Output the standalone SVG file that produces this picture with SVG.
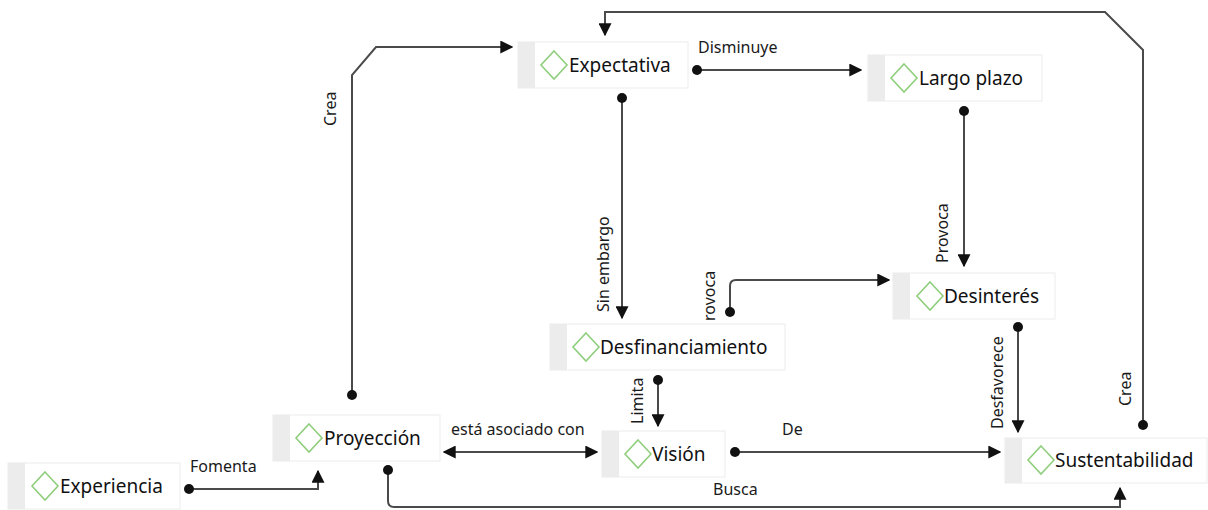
<svg xmlns="http://www.w3.org/2000/svg" width="1208" height="510" viewBox="0 0 1208 510">
<style>
.box{fill:#ffffff;stroke:#ececec;stroke-width:1}
.strip{fill:#ececec}
.dia{fill:none;stroke:#8fce7c;stroke-width:1.6}
.nt{font-family:"Noto Sans","Open Sans",sans-serif;font-size:19px;fill:#111111}
.lt{font-family:"Noto Sans","Open Sans",sans-serif;font-size:16px;fill:#1a1a1a}
.ln{fill:none;stroke:#4a4a4a;stroke-width:2}
</style>
<defs>
<marker id="arrS" viewBox="0 0 10 10" refX="9" refY="5" markerWidth="13" markerHeight="13" markerUnits="userSpaceOnUse" orient="auto-start-reverse">
<path d="M0,0 L10,5 L0,10 z" fill="#111"/>
</marker>
<marker id="dot" viewBox="0 0 10 10" refX="5" refY="5" markerWidth="10" markerHeight="10" markerUnits="userSpaceOnUse">
<circle cx="5" cy="5" r="5" fill="#111"/>
</marker>
</defs>
<g id="connectors">
<path class="ln" d="M697,70 H861" marker-start="url(#dot)" marker-end="url(#arrS)"/>
<text class="lt" x="698" y="53">Disminuye</text>
<path class="ln" d="M1143,425 V50 L1105,12 H605 V35" marker-start="url(#dot)" marker-end="url(#arrS)"/>
<text class="lt" transform="translate(1131,406) rotate(-90)">Crea</text>
<path class="ln" d="M622,98 V318" marker-start="url(#dot)" marker-end="url(#arrS)"/>
<text class="lt" transform="translate(609,312) rotate(-90)">Sin embargo</text>
<path class="ln" d="M964,111 V266" marker-start="url(#dot)" marker-end="url(#arrS)"/>
<text class="lt" transform="translate(948,263) rotate(-90)">Provoca</text>
<path class="ln" d="M730,312 V286 Q730,280 736,280 H889" marker-start="url(#dot)" marker-end="url(#arrS)"/>
<text class="lt" transform="translate(715,321) rotate(-90)">rovoca</text>
<path class="ln" d="M658,380 V426" marker-start="url(#dot)" marker-end="url(#arrS)"/>
<text class="lt" transform="translate(643,424) rotate(-90)">Limita</text>
<path class="ln" d="M444,452 H597" marker-start="url(#arrS)" marker-end="url(#arrS)"/>
<text class="lt" x="451" y="435">está asociado con</text>
<path class="ln" d="M735,452 H1000" marker-start="url(#dot)" marker-end="url(#arrS)"/>
<text class="lt" x="782" y="435">De</text>
<path class="ln" d="M1018,327 V432" marker-start="url(#dot)" marker-end="url(#arrS)"/>
<text class="lt" transform="translate(1003,429) rotate(-90)">Desfavorece</text>
<path class="ln" d="M352,395 V75 L376,47 H512" marker-start="url(#dot)" marker-end="url(#arrS)"/>
<text class="lt" transform="translate(336,126) rotate(-90)">Crea</text>
<path class="ln" d="M189,489 H318 V471" marker-start="url(#dot)" marker-end="url(#arrS)"/>
<text class="lt" x="190" y="472">Fomenta</text>
<path class="ln" d="M388,470 V501 Q388,507 394,507 H1120 V488" marker-start="url(#dot)" marker-end="url(#arrS)"/>
<text class="lt" x="713" y="495">Busca</text>
</g>
<g id="expectativa">
<rect class="box" x="518" y="42" width="170" height="46"/>
<rect class="strip" x="518" y="42" width="17" height="46"/>
<path class="dia" d="M554,51 L567,65 L554,79 L541,65 z"/>
<text class="nt" x="569" y="72">Expectativa</text>
</g>
<g id="largo-plazo">
<rect class="box" x="868" y="55" width="174" height="46"/>
<rect class="strip" x="868" y="55" width="17" height="46"/>
<path class="dia" d="M904,64 L917,78 L904,92 L891,78 z"/>
<text class="nt" x="919" y="85">Largo plazo</text>
</g>
<g id="desinteres">
<rect class="box" x="893" y="273" width="162" height="46"/>
<rect class="strip" x="893" y="273" width="17" height="46"/>
<path class="dia" d="M930,282 L943,296 L930,310 L917,296 z"/>
<text class="nt" x="944" y="303">Desinterés</text>
</g>
<g id="desfinanciamiento">
<rect class="box" x="550" y="324" width="235" height="46"/>
<rect class="strip" x="550" y="324" width="17" height="46"/>
<path class="dia" d="M586,333 L599,347 L586,361 L573,347 z"/>
<text class="nt" x="600" y="354">Desfinanciamiento</text>
</g>
<g id="proyeccion">
<rect class="box" x="273" y="415" width="167" height="46"/>
<rect class="strip" x="273" y="415" width="17" height="46"/>
<path class="dia" d="M309,424 L322,438 L309,452 L296,438 z"/>
<text class="nt" x="324" y="445">Proyección</text>
</g>
<g id="experiencia">
<rect class="box" x="8" y="463" width="172" height="46"/>
<rect class="strip" x="8" y="463" width="17" height="46"/>
<path class="dia" d="M45,472 L58,486 L45,500 L32,486 z"/>
<text class="nt" x="60" y="493">Experiencia</text>
</g>
<g id="vision">
<rect class="box" x="602" y="431" width="123" height="46"/>
<rect class="strip" x="602" y="431" width="17" height="46"/>
<path class="dia" d="M638,440 L651,454 L638,468 L625,454 z"/>
<text class="nt" x="652" y="461">Visión</text>
</g>
<g id="sustentabilidad">
<rect class="box" x="1005" y="438" width="202" height="45"/>
<rect class="strip" x="1005" y="438" width="17" height="45"/>
<path class="dia" d="M1041,446 L1054,460 L1041,474 L1028,460 z"/>
<text class="nt" x="1055" y="467">Sustentabilidad</text>
</g>
</svg>
